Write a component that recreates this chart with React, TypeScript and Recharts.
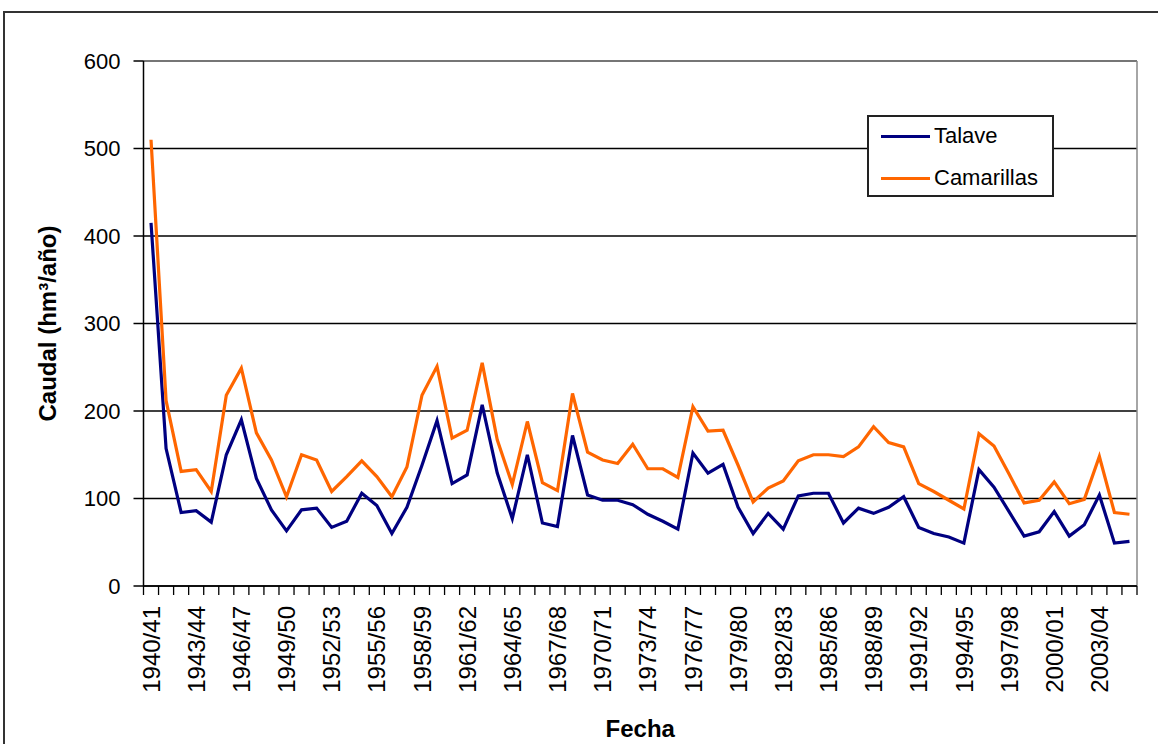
import React from 'react';
import {
  LineChart,
  Line,
  XAxis,
  YAxis,
  CartesianGrid,
  Legend,
  ReferenceLine,
  Label,
} from 'recharts';

const seasons = [
  '1940/41', '1941/42', '1942/43', '1943/44', '1944/45', '1945/46', '1946/47', '1947/48', '1948/49', '1949/50',
  '1950/51', '1951/52', '1952/53', '1953/54', '1954/55', '1955/56', '1956/57', '1957/58', '1958/59', '1959/60',
  '1960/61', '1961/62', '1962/63', '1963/64', '1964/65', '1965/66', '1966/67', '1967/68', '1968/69', '1969/70',
  '1970/71', '1971/72', '1972/73', '1973/74', '1974/75', '1975/76', '1976/77', '1977/78', '1978/79', '1979/80',
  '1980/81', '1981/82', '1982/83', '1983/84', '1984/85', '1985/86', '1986/87', '1987/88', '1988/89', '1989/90',
  '1990/91', '1991/92', '1992/93', '1993/94', '1994/95', '1995/96', '1996/97', '1997/98', '1998/99', '1999/00',
  '2000/01', '2001/02', '2002/03', '2003/04', '2004/05', '2005/06',
];

const talave = [
  415, 157, 84, 86, 73, 150, 190, 123, 87, 63,
  87, 89, 67, 74, 106, 92, 60, 90, 138, 189,
  117, 127, 207, 129, 77, 150, 72, 68, 172, 104,
  98, 98, 93, 82, 74, 65, 152, 129, 139, 90,
  60, 83, 65, 103, 106, 106, 72, 89, 83, 90,
  102, 67, 60, 56, 49, 133, 113, 85, 57, 62,
  85, 57, 70, 104, 49, 51,
];

const camarillas = [
  510, 212, 131, 133, 108, 218, 249, 175, 144, 102,
  150, 144, 108, 125, 143, 125, 102, 136, 218, 251,
  169, 178, 255, 167, 116, 188, 118, 109, 220, 153,
  144, 140, 162, 134, 134, 124, 205, 177, 178, 138,
  96, 112, 120, 143, 150, 150, 148, 159, 182, 164,
  159, 117, 108, 98, 88, 174, 160, 128, 95, 98,
  119, 94, 99, 148, 84, 82,
];

const seriesNames = ['Talave', 'Camarillas'];
const yTicks = [0, 100, 200, 300, 400, 500, 600];
const labelEvery = 3;

const data = seasons.map((season, i) => ({
  idx: i,
  season,
  Talave: talave[i],
  Camarillas: camarillas[i],
}));

// tick marks at band boundaries, labels at band centers
const boundaryTicks = [...seasons.map((_, i) => i - 0.5), seasons.length - 0.5];
const labelTicks = seasons.map((_, i) => i).filter((i) => i % labelEvery === 0);
const xTicks = [...boundaryTicks, ...labelTicks].sort((a, b) => a - b);

const FONT = '"Liberation Sans", Arial, sans-serif';

const XTick = (props: any) => {
  const { x, y, payload } = props;
  const v = payload.value as number;
  if (!Number.isInteger(v)) {
    return <line x1={x} y1={y} x2={x} y2={y + 9} stroke="#000" strokeWidth={1.3} />;
  }
  const ty = y + 20;
  return (
    <text
      x={x}
      y={ty}
      dy="0.36em"
      transform={`rotate(-90, ${x}, ${ty})`}
      textAnchor="end"
      fontSize={24}
      fontFamily={FONT}
      fill="#000"
    >
      {seasons[v]}
    </text>
  );
};

const LegendBox = (props: any) => {
  const payload = [...(props.payload || [])].sort(
    (a: any, b: any) => seriesNames.indexOf(a.value) - seriesNames.indexOf(b.value)
  );
  return (
    <div
      style={{
        width: 183,
        height: 78,
        border: '2px solid #222',
        background: '#fff',
        fontFamily: FONT,
        fontSize: 22,
        color: '#000',
        position: 'relative',
      }}
    >
      {payload.map((p: any, i: number) => (
        <div
          key={p.value}
          style={{
            position: 'absolute',
            left: 12,
            top: i === 0 ? 6 : 48,
            height: 26,
            display: 'flex',
            alignItems: 'center',
            whiteSpace: 'nowrap',
          }}
        >
          <span style={{ display: 'inline-block', width: 49, height: 3, background: p.color, marginRight: 4 }} />
          <span>{p.value}</span>
        </div>
      ))}
    </div>
  );
};

export default function App() {
  return (
    <div style={{ position: 'absolute', left: 0, top: 0, width: 1158, height: 744, overflow: 'hidden', background: '#fff' }}>
      <div
        style={{
          position: 'absolute',
          left: 3,
          top: 11,
          width: 1300,
          height: 900,
          borderLeft: '2px solid #333',
          borderTop: '2px solid #333',
        }}
      />
      <div style={{ position: 'absolute', left: 0, top: 0 }}>
        <LineChart
          width={1158}
          height={744}
          data={data}
          margin={{ top: 61, right: 21, bottom: 58, left: 63.5 }}
        >
          <CartesianGrid horizontal vertical={false} stroke="#000" strokeWidth={1.3} />
          <XAxis
            dataKey="idx"
            type="number"
            domain={[-0.5, seasons.length - 0.5]}
            ticks={xTicks}
            interval={0}
            tickSize={0}
            tickMargin={0}
            tickLine={false}
            tick={<XTick />}
            height={100}
            stroke="#000"
            strokeWidth={1.5}
            allowDataOverflow
          >
            <Label
              content={(p: any) => {
                const vb = p.viewBox;
                return (
                  <text
                    x={vb.x + vb.width / 2}
                    y={vb.y + 151}
                    textAnchor="middle"
                    fontSize={24}
                    fontWeight="bold"
                    fontFamily={FONT}
                    fill="#000"
                  >
                    Fecha
                  </text>
                );
              }}
            />
          </XAxis>
          <YAxis
            type="number"
            domain={[0, 600]}
            ticks={yTicks}
            width={80}
            tickSize={10}
            tickMargin={13}
            tick={{ fontSize: 22, fill: '#000', fontFamily: FONT }}
            stroke="#000"
            strokeWidth={1.5}
            allowDataOverflow
          >
            <Label
              content={(p: any) => {
                const vb = p.viewBox;
                const cx = vb.x - 16.5;
                const cy = vb.y + vb.height / 2;
                return (
                  <text
                    x={cx}
                    y={cy}
                    dy="0.36em"
                    transform={`rotate(-90, ${cx}, ${cy})`}
                    textAnchor="middle"
                    fontSize={24}
                    fontWeight="bold"
                    fontFamily={FONT}
                    fill="#000"
                  >
                    Caudal (hm³/año)
                  </text>
                );
              }}
            />
          </YAxis>
          <ReferenceLine y={600} stroke="#888" strokeWidth={1.5} />
          <ReferenceLine x={seasons.length - 0.5} stroke="#888" strokeWidth={1.5} />
          <Legend
            layout="vertical"
            align="center"
            verticalAlign="middle"
            content={<LegendBox />}
            wrapperStyle={{ position: 'absolute', left: 867, top: 115, width: 187, height: 82 }}
          />
          <Line
            type="linear"
            dataKey="Talave"
            name="Talave"
            stroke="#000080"
            strokeWidth={3.2}
            dot={false}
            isAnimationActive={false}
          />
          <Line
            type="linear"
            dataKey="Camarillas"
            name="Camarillas"
            stroke="#FF6600"
            strokeWidth={3.2}
            dot={false}
            isAnimationActive={false}
          />
        </LineChart>
      </div>
    </div>
  );
}
